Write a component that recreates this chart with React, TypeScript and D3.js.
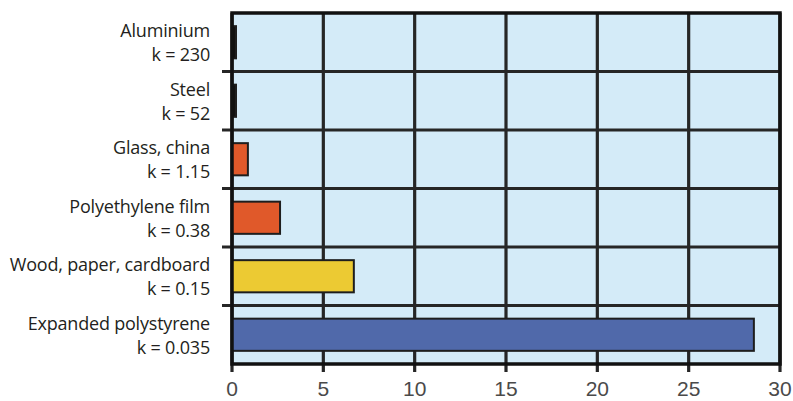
import React, { useEffect, useRef } from 'react'
import * as d3 from 'd3'

// materials, top to bottom
const materials = ['Aluminium', 'Steel', 'Glass, china', 'Polyethylene film', 'Wood, paper, cardboard', 'Expanded polystyrene']
const kLabels = ['k = 230', 'k = 52', 'k = 1.15', 'k = 0.38', 'k = 0.15', 'k = 0.035']
// bar lengths (relative thickness)
const values = [0.004, 0.019, 0.87, 2.63, 6.67, 28.57]
const barColors = ['#111111', '#111111', '#e0592a', '#e0592a', '#ecca33', '#5069aa']
const xTicks = [0, 5, 10, 15, 20, 25, 30]

export default function App() {
  const ref = useRef<SVGSVGElement>(null)

  useEffect(() => {
    const width = 793, height = 401
    const left = 232, right = 780, top = 13, bottom = 364

    const svg = d3.select(ref.current)
    svg.selectAll('*').remove()
    svg.attr('width', width).attr('height', height)

    const x = d3.scaleLinear().domain([0, 30]).range([left, right])
    const y = d3.scaleBand<string>()
      .domain(materials)
      .range([top, bottom])
      .paddingInner(0.45)
      .paddingOuter(0.225)
    const step = y.step()

    // plot background
    svg.append('rect')
      .attr('x', left).attr('y', top)
      .attr('width', right - left).attr('height', bottom - top)
      .attr('fill', '#d4ebf8')

    // vertical grid + ticks
    svg.selectAll('.vgrid')
      .data(xTicks)
      .enter()
      .append('line')
      .attr('x1', d => x(d)).attr('x2', d => x(d))
      .attr('y1', top).attr('y2', bottom + 8)
      .attr('stroke', '#262626')
      .attr('stroke-width', 3.2)

    // horizontal grid lines at category boundaries, with little ticks on the left
    const bounds = materials.slice(1).map(m => (y(m) as number) - step * 0.225)
    svg.selectAll('.hgrid')
      .data(bounds)
      .enter()
      .append('line')
      .attr('x1', left - 10).attr('x2', right)
      .attr('y1', d => d).attr('y2', d => d)
      .attr('stroke', '#262626')
      .attr('stroke-width', 3.2)

    // bars
    svg.selectAll('.bar')
      .data(values)
      .enter()
      .append('rect')
      .attr('x', x(0))
      .attr('y', (d, i) => y(materials[i]) as number)
      .attr('width', d => Math.max(x(d) - x(0), 4))
      .attr('height', y.bandwidth())
      .attr('fill', (d, i) => barColors[i])
      .attr('stroke', '#1e1e1e')
      .attr('stroke-width', 2)

    // frame
    svg.append('rect')
      .attr('x', left).attr('y', top)
      .attr('width', right - left).attr('height', bottom - top)
      .attr('fill', 'none')
      .attr('stroke', '#111')
      .attr('stroke-width', 3.5)

    // x tick labels
    svg.selectAll('.xlab')
      .data(xTicks)
      .enter()
      .append('text')
      .attr('x', d => x(d))
      .attr('y', 396)
      .attr('text-anchor', 'middle')
      .style('font-family', 'Liberation Sans, Arial, sans-serif')
      .style('font-size', '21px')
      .attr('fill', '#4a4a4a')
      .text(d => d)

    // category labels, two lines each
    const lab = svg.selectAll('.ylab')
      .data(materials)
      .enter()
      .append('text')
      .attr('text-anchor', 'end')
      .style('font-family', 'Open Sans, sans-serif')
      .style('font-size', '18px')
      .style('letter-spacing', '-0.2px')
      .attr('fill', '#231f20')
    lab.append('tspan')
      .attr('x', 210)
      .attr('y', d => (y(d) as number) + y.bandwidth() / 2 - 5)
      .text(d => d)
    lab.append('tspan')
      .attr('x', 210)
      .attr('y', (d, i) => (y(d) as number) + y.bandwidth() / 2 + 19)
      .text((d, i) => kLabels[i])
  }, [])

  return (
    <div style={{ position: 'absolute', left: 0, top: 0, background: '#fff' }}>
      <svg ref={ref} style={{ display: 'block' }} />
    </div>
  )
}
